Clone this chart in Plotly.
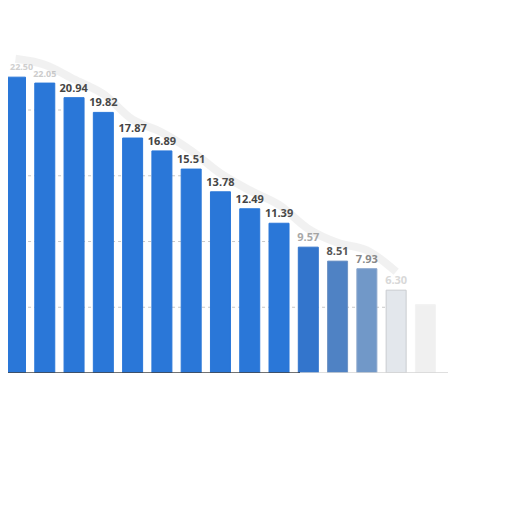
import plotly.graph_objects as go

categories = list(range(15))
values = [22.50, 22.05, 20.94, 19.82, 17.87, 16.89, 15.51, 13.78, 12.49, 11.39, 9.57, 8.51, 7.93, 6.30, 5.20]
labels = ["22.50", "22.05", "20.94", "19.82", "17.87", "16.89", "15.51", "13.78", "12.49", "11.39", "9.57", "8.51", "7.93", "6.30", ""]
bar_colors = ["#2a77d8"] * 10 + ["#3375cc", "#4f82c4", "#7198c8", "#e3e7ec", "#f0f0f0"]
line_colors = ["#2a77d8"] * 10 + ["#3375cc", "#6f93c4", "#8aa6cc", "#c9ccd0", "#f2f2f2"]
label_colors = ["#cfcfcf", "#cccccc"] + ["#444444"] * 8 + ["#a8a8a8", "#555555", "#888888", "#d8d8d8", "#ffffff"]
label_sizes = [9, 9] + [11] * 13
grid_values = [5, 10, 15, 20]

BAR_WIDTH = 0.683
LABEL_ROOM = 1.5
HALO_OFFSET = 1.4

fig = go.Figure()

# soft grey halo hugging the top outline of bars and labels
fig.add_trace(go.Scatter(
    x=categories[:14], y=[v + HALO_OFFSET for v in values[:14]],
    mode="lines", line=dict(color="rgba(140,140,140,0.12)", width=8, shape="spline"),
    hoverinfo="skip", cliponaxis=False,
))

bar_text = [""] + labels[1:]
fig.add_trace(go.Bar(
    x=categories, y=values, width=BAR_WIDTH,
    marker=dict(color=bar_colors, line=dict(color=line_colors, width=1)),
    text=bar_text, textposition="outside", cliponaxis=False, constraintext="none",
    textfont=dict(family="Open Sans", size=label_sizes, color=label_colors, weight="bold"),
    hoverinfo="skip",
))

# first label sits against the left edge, kept fully inside the picture
fig.add_annotation(
    x=0, xref="paper", y=values[0], yref="y", text=labels[0],
    xanchor="left", yanchor="bottom", yshift=2, showarrow=False,
    font=dict(family="Open Sans", size=label_sizes[0], color=label_colors[0], weight="bold"),
)

# dotted gridlines only run below the stepped outline of the bars/labels
shapes = []
for g in grid_values:
    stop = next((i for i, v in enumerate(values) if v < g + LABEL_ROOM), len(values))
    shapes.append(dict(type="line", xref="x", yref="y", x0=-0.8, x1=stop - BAR_WIDTH / 2,
                       y0=g, y1=g, layer="below",
                       line=dict(color="#c8c8c8", width=1, dash="dot")))

shapes += [
    dict(type="line", xref="paper", yref="y", x0=0, x1=292 / 440, y0=0, y1=0,
         line=dict(color="#444444", width=1.5), layer="above"),
    dict(type="line", xref="paper", yref="y", x0=292 / 440, x1=1, y0=0, y1=0,
         line=dict(color="#d5d5d5", width=1.5), layer="above"),
]

fig.update_layout(
    width=512, height=512,
    margin=dict(l=0, r=72, t=0, b=147),
    paper_bgcolor="white", plot_bgcolor="white",
    showlegend=False,
    xaxis=dict(range=[-0.256, 14.771], showticklabels=False, showgrid=False,
               zeroline=False, showline=False, ticks=""),
    yaxis=dict(range=[0, 27.76], showticklabels=False, showgrid=False,
               zeroline=False, showline=False, ticks=""),
    shapes=shapes,
)

fig.write_html("out.html")
